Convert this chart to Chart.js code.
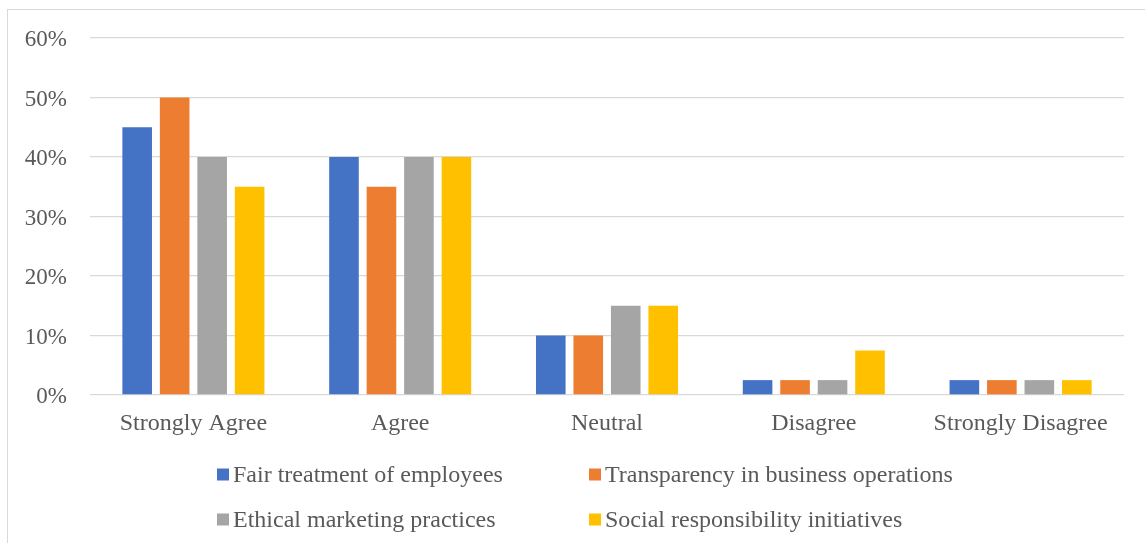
<!DOCTYPE html>
<html>
<head>
<meta charset="utf-8">
<script src="https://cdn.jsdelivr.net/npm/chart.js@4.4.1/dist/chart.umd.min.js"></script>
<style>
  html, body { margin: 0; padding: 0; background: #ffffff; overflow: hidden; }
  #wrap { position: relative; width: 1145px; height: 543px; }
  #frame { position: absolute; left: 7px; top: 9px; width: 1150px; height: 560px; border: 1px solid #d9d9d9; box-sizing: border-box; pointer-events: none; }
  canvas { position: absolute; left: 0; top: 0; }
</style>
</head>
<body>
<div id="wrap">
  <canvas id="c" width="1145" height="543"></canvas>
  <div id="frame"></div>
</div>
<script>
const categories = ["Strongly Agree", "Agree", "Neutral", "Disagree", "Strongly Disagree"];
const seriesNames = ["Fair treatment of employees", "Transparency in business operations", "Ethical marketing practices", "Social responsibility initiatives"];
const fairTreatment = [45, 40, 10, 2.5, 2.5];
const transparency = [50, 35, 10, 2.5, 2.5];
const ethicalMarketing = [40, 40, 15, 2.5, 2.5];
const socialResponsibility = [35, 40, 15, 7.5, 2.5];
const yTicks = [0, 10, 20, 30, 40, 50, 60];
const colors = ["#4472C4", "#ED7D31", "#A5A5A5", "#FFC000"];

const FONT = "'Liberation Serif', 'Times New Roman', serif";
const TEXT = "#595959";

const legendPlugin = {
  id: 'gridLegend',
  afterDraw(chart) {
    const ctx = chart.ctx;
    const cols = [217, 589];
    const rows = [474.5, 519.5];
    ctx.save();
    ctx.font = "24px " + FONT;
    ctx.textBaseline = "middle";
    ctx.textAlign = "left";
    chart.data.datasets.forEach((ds, i) => {
      const x = cols[i % 2];
      const y = rows[Math.floor(i / 2)];
      ctx.fillStyle = ds.backgroundColor;
      ctx.fillRect(x, y - 6, 12, 12);
      ctx.fillStyle = TEXT;
      ctx.fillText(ds.label, x + 16, y + 1);
    });
    ctx.restore();
  }
};

const seriesData = [fairTreatment, transparency, ethicalMarketing, socialResponsibility];

new Chart(document.getElementById('c'), {
  type: 'bar',
  data: {
    labels: categories,
    datasets: seriesNames.map((name, i) => ({
      label: name,
      data: seriesData[i],
      backgroundColor: colors[i],
      borderWidth: 0,
      categoryPercentage: 0.725,
      barPercentage: 0.79
    }))
  },
  options: {
    responsive: false,
    animation: false,
    layout: { padding: { top: 38, right: 21, left: 0, bottom: 0 } },
    plugins: {
      legend: { display: false },
      tooltip: { enabled: false }
    },
    scales: {
      x: {
        grid: { display: false, drawTicks: false },
        border: { display: false },
        ticks: { color: TEXT, font: { family: FONT, size: 24 }, padding: 14, maxRotation: 0 },
        afterFit(scale) { scale.height = 148; }
      },
      y: {
        min: 0, max: 60,
        afterBuildTicks(scale) { scale.ticks = yTicks.map(v => ({ value: v })); },
        grid: { color: "#d9d9d9", lineWidth: 1.3, drawTicks: false },
        border: { display: false },
        ticks: {
          color: TEXT, font: { family: FONT, size: 23 }, padding: 23, labelOffset: 2,
          callback: v => v + "%"
        },
        afterFit(scale) { scale.width = 90; }
      }
    }
  },
  plugins: [legendPlugin]
});
</script>
</body>
</html>
